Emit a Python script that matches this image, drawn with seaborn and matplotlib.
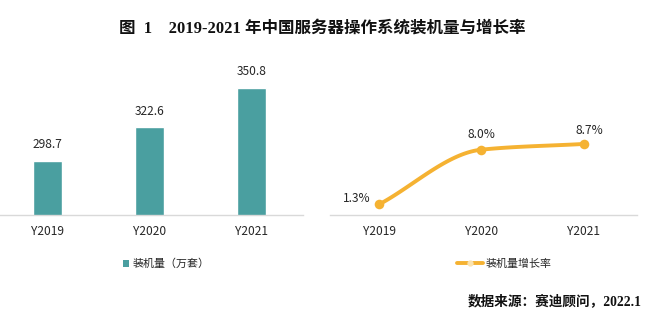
import numpy as np
import pandas as pd
import matplotlib
matplotlib.use("Agg")
import matplotlib.pyplot as plt
import seaborn as sns
from matplotlib.patches import Patch
from matplotlib.lines import Line2D

# ---- data ----
years = ["Y2019", "Y2020", "Y2021"]
installs = [298.7, 322.6, 350.8]          # 装机量（万套）
growth = [1.3, 8.0, 8.7]                  # 装机量增长率 (%)
title_text = "图  1    2019-2021 年中国服务器操作系统装机量与增长率"
bar_legend = "装机量（万套）"
line_legend = "装机量增长率"
source_text = "数据来源：赛迪顾问，2022.1"

BAR_COLOR = "#4A9FA0"
LINE_COLOR = "#F5B232"
AXIS_COLOR = "#D9D9D9"
TEXT_COLOR = "#262626"

sns.set_theme(style="white")
plt.rcParams["font.family"] = ["Noto Sans CJK SC", "DejaVu Sans"]
plt.rcParams["axes.unicode_minus"] = False

W, H = 650, 325
fig = plt.figure(figsize=(W / 100, H / 100), dpi=100)


def rect(x0, y0, x1, y1):
    return [x0 / W, 1 - y1 / H, (x1 - x0) / W, (y1 - y0) / H]


ax1 = fig.add_axes(rect(0, 19, 303, 215))
ax2 = fig.add_axes(rect(330, 19, 637, 215))

# ---- left: bars ----
df1 = pd.DataFrame({"year": years, "value": installs})
sns.barplot(data=df1, x="year", y="value", ax=ax1, color=BAR_COLOR,
            saturation=1, width=0.285)
ax1.set_ylim(260, 400)
ax1.set_xlim(-0.46, 2.5)
ax1.bar_label(ax1.containers[0], fmt="%.1f", padding=7, fontsize=8.6,
              color=TEXT_COLOR)

# ---- right: smooth growth line ----
xi = np.arange(len(growth), dtype=float)
yi = np.array(growth, dtype=float)
d = np.diff(yi)
m = np.zeros_like(yi)
m[0] = d[0]
m[-1] = d[-1]
for i in range(1, len(yi) - 1):
    if d[i - 1] * d[i] > 0:
        m[i] = 2 * d[i - 1] * d[i] / (d[i - 1] + d[i])
xs, ys = [], []
for i in range(len(yi) - 1):
    t = np.linspace(0, 1, 60)
    h00 = 2 * t**3 - 3 * t**2 + 1
    h10 = t**3 - 2 * t**2 + t
    h01 = -2 * t**3 + 3 * t**2
    h11 = t**3 - t**2
    xs.append(xi[i] + t)
    ys.append(h00 * yi[i] + h10 * m[i] + h01 * yi[i + 1] + h11 * m[i + 1])
smooth = pd.DataFrame({"x": np.concatenate(xs), "y": np.concatenate(ys)})
sns.lineplot(data=smooth, x="x", y="y", ax=ax2, color=LINE_COLOR, lw=2.8,
             sort=False, estimator=None)
pts = pd.DataFrame({"x": xi, "y": yi})
sns.scatterplot(data=pts, x="x", y="y", ax=ax2, color=LINE_COLOR, s=48,
                edgecolor=LINE_COLOR, linewidth=0, zorder=5)
ax2.set_ylim(0, 24)
ax2.set_xlim(-0.48, 2.52)
ax2.set_xticks(xi)
ax2.set_xticklabels(years)
label_offsets = [(-16, 4), (0, 11), (4, 10)]
for x, y, off in zip(xi, yi, label_offsets):
    ax2.annotate(f"{y:.1f}%", (x, y), xytext=off, textcoords="offset points",
                 ha="center", va="center", fontsize=8.6, color=TEXT_COLOR)

for ax in (ax1, ax2):
    for s in ("top", "right", "left"):
        ax.spines[s].set_visible(False)
    ax.spines["bottom"].set_color(AXIS_COLOR)
    ax.spines["bottom"].set_linewidth(1)
    ax.set_yticks([])
    ax.set_xlabel("")
    ax.set_ylabel("")
    ax.tick_params(axis="x", length=0, pad=7.5, labelsize=8.6,
                   labelcolor=TEXT_COLOR)
    ax.patch.set_alpha(0)

# ---- legends ----
bar_handle = Patch(facecolor=BAR_COLOR, edgecolor="none")
fig.legend([bar_handle], [bar_legend], loc="center left",
           bbox_to_anchor=(113 / W, 1 - 264 / H), frameon=False,
           fontsize=7.9, handlelength=0.6, handleheight=0.6,
           handletextpad=0.25, labelcolor=TEXT_COLOR)
line_handle = Line2D([], [], color=LINE_COLOR, lw=2.8, marker="o",
                     markersize=3.5, markerfacecolor="#FBE3B0",
                     markeredgecolor="#FBE3B0")
fig.legend([line_handle], [line_legend], loc="center left",
           bbox_to_anchor=(447 / W, 1 - 264 / H), frameon=False,
           fontsize=7.9, handlelength=2.4, handletextpad=0.25,
           labelcolor=TEXT_COLOR)

# ---- title & source ----
serif_cjk = ["Liberation Serif", "Noto Sans CJK SC"]
fig.text(119 / W, 1 - 29 / H, title_text, ha="left", va="center",
         fontsize=11.9, fontweight="bold", family=serif_cjk, color="#111111")
fig.text(642 / W, 1 - 301 / H, source_text, ha="right", va="center",
         fontsize=9.8, fontweight="bold", family=serif_cjk, color="#111111")

fig.savefig("out.png", dpi=100, facecolor="white")
